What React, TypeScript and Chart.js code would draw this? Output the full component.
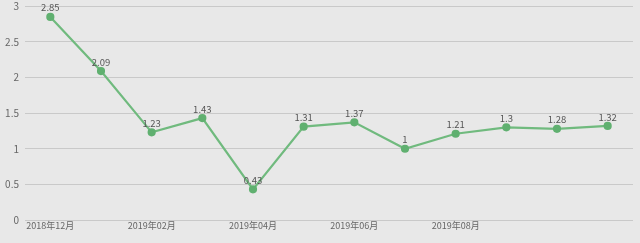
import React, { useEffect, useRef } from "react";
import { Chart, registerables } from "chart.js";

Chart.register(...registerables);

const months = [
  "2018年12月", "2019年01月", "2019年02月", "2019年03月", "2019年04月", "2019年05月",
  "2019年06月", "2019年07月", "2019年08月", "2019年09月", "2019年10月", "2019年11月",
];
const values = [2.85, 2.09, 1.23, 1.43, 0.43, 1.31, 1.37, 1, 1.21, 1.3, 1.28, 1.32];
const shownLabels = ["2018年12月", "2019年02月", "2019年04月", "2019年06月", "2019年08月"];
const yTicks = [0, 0.5, 1, 1.5, 2, 2.5, 3];

const FONT = "'Noto Sans CJK SC', 'Noto Sans', sans-serif";

const valueLabels = {
  id: "valueLabels",
  afterDatasetsDraw(chart: any) {
    const ctx = chart.ctx;
    const meta = chart.getDatasetMeta(0);
    ctx.save();
    ctx.font = `9.5px ${FONT}`;
    ctx.fillStyle = "#555";
    ctx.textAlign = "center";
    ctx.textBaseline = "middle";
    meta.data.forEach((pt: any, i: number) => {
      ctx.fillText(String(values[i]), pt.x, pt.y - 9);
    });
    ctx.restore();
  },
};

export default function App() {
  const ref = useRef<HTMLCanvasElement>(null);
  useEffect(() => {
    const chart = new Chart(ref.current!, {
      type: "line",
      data: {
        labels: months,
        datasets: [
          {
            data: values,
            borderColor: "rgb(112,186,126)",
            backgroundColor: "rgb(96,176,112)",
            pointBackgroundColor: "rgb(96,176,112)",
            pointBorderColor: "rgb(96,176,112)",
            pointRadius: 3,
            borderWidth: 2.2,
            tension: 0,
          },
        ],
      },
      plugins: [valueLabels],
      options: {
        animation: false,
        responsive: false,
        layout: { padding: { top: 6, right: 7, left: 0, bottom: 0 } },
        plugins: { legend: { display: false }, tooltip: { enabled: false } },
        scales: {
          x: {
            type: "category",
            offset: true,
            grid: { display: false, drawTicks: false, tickLength: 0 },
            border: { display: false },
            afterFit: (s: any) => {
              s.height = 23;
            },
            ticks: {
              autoSkip: false,
              maxRotation: 0,
              color: "#666",
              font: { family: FONT, size: 9 },
              padding: 0,
              callback: (_v: any, i: number) =>
                shownLabels.includes(months[i]) ? months[i] : "",
            },
          },
          y: {
            min: 0,
            max: 3,
            afterBuildTicks: (s: any) => {
              s.ticks = yTicks.map((v) => ({ value: v }));
            },
            afterFit: (s: any) => {
              s.width = 25;
              s.paddingTop = 0;
              s.paddingBottom = 0;
            },
            grid: { color: "#c9c9c9", drawTicks: false, lineWidth: 1 },
            border: { display: false },
            ticks: {
              color: "#666",
              font: { family: FONT, size: 10, lineHeight: 0.1 },
              padding: 6,
              callback: (v: any) => String(v),
            },
          },
        },
      },
    });
    return () => chart.destroy();
  }, []);
  return (
    <div style={{ position: "fixed", left: 0, top: 0, width: 640, height: 243, background: "#e8e8e8" }}>
      <canvas ref={ref} width={640} height={243} style={{ display: "block" }} />
    </div>
  );
}
